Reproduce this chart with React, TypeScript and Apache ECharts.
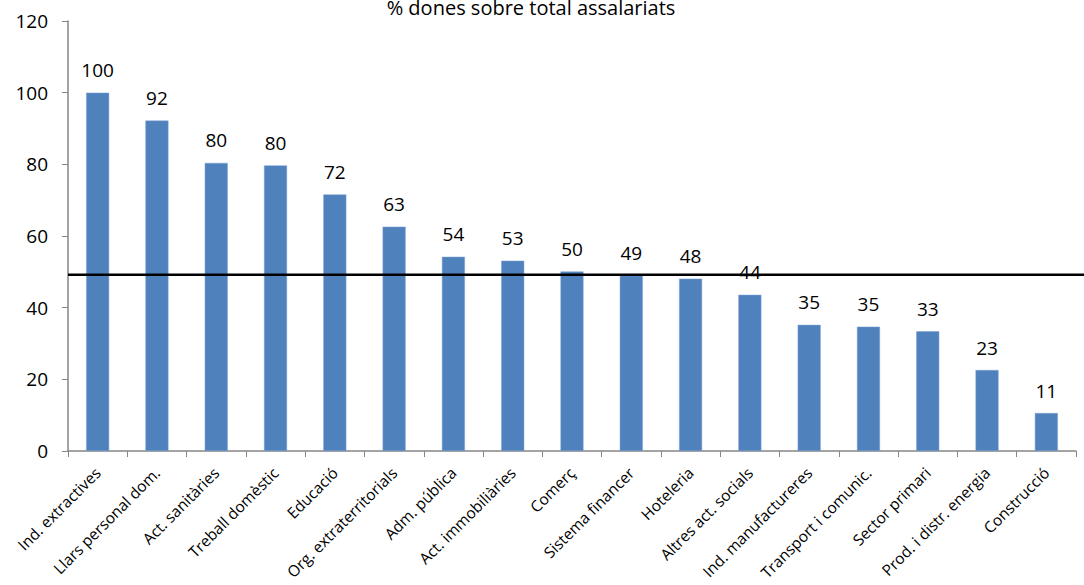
import React, { useEffect, useRef } from "react";
import * as echarts from "echarts";

const categories = [
  "Ind. extractives",
  "Llars personal dom.",
  "Act. sanitàries",
  "Treball domèstic",
  "Educació",
  "Org. extraterritorials",
  "Adm. pública",
  "Act. immobiliàries",
  "Comerç",
  "Sistema financer",
  "Hoteleria",
  "Altres act. socials",
  "Ind. manufactureres",
  "Transport i comunic.",
  "Sector primari",
  "Prod. i distr. energia",
  "Construcció",
];
const values = [100, 92.2, 80.4, 79.7, 71.6, 62.6, 54.2, 53.1, 50.1, 48.9, 48.1, 43.6, 35.2, 34.7, 33.4, 22.6, 10.6];
const averageLine = 49.2;
const titleText = "% dones sobre total assalariats";
const yTicks = { min: 0, max: 120, interval: 20 };

const FONT = "'Open Sans', 'Noto Sans', sans-serif";

export default function App() {
  const ref = useRef<HTMLDivElement>(null);
  useEffect(() => {
    document.body.style.margin = "0";
    const chart = echarts.init(ref.current!, undefined, { renderer: "svg" });
    chart.setOption({
      animation: false,
      backgroundColor: "#ffffff",
      title: {
        text: titleText,
        left: 526,
        top: -8,
        textAlign: "center",
        textStyle: { fontFamily: FONT, fontSize: 20, fontWeight: "normal", color: "#000" },
      },
      grid: { left: 68, right: 8, top: 21, bottom: 134 },
      xAxis: {
        type: "category",
        data: categories,
        axisLine: { lineStyle: { color: "#868686", width: 1.5 } },
        axisTick: { show: true, length: 6, lineStyle: { color: "#868686" } },
        axisLabel: {
          rotate: 45,
          interval: 0,
          fontFamily: FONT,
          fontSize: 15.5,
          color: "#000",
          margin: 19,
        },
      },
      yAxis: {
        type: "value",
        min: yTicks.min,
        max: yTicks.max,
        interval: yTicks.interval,
        axisLine: { show: true, lineStyle: { color: "#868686", width: 1.5 } },
        axisTick: { show: true, length: 6, lineStyle: { color: "#868686" } },
        splitLine: { show: false },
        axisLabel: { fontFamily: FONT, fontSize: 19, color: "#000", margin: 20 },
      },
      series: [
        {
          type: "bar",
          data: values,
          barWidth: 23,
          itemStyle: { color: "#4F81BD", borderColor: "#7EA3D3", borderWidth: 0.5 },
          label: {
            show: true,
            position: "top",
            distance: 13,
            fontFamily: FONT,
            fontSize: 19,
            color: "#000",
            formatter: (p: any) => String(Math.round(p.value)),
          },
          z: 2,
        },
      ],
    });
    const y = chart.convertToPixel({ yAxisIndex: 0 }, averageLine) as number;
    chart.setOption({
      graphic: [
        {
          type: "line",
          z: 100,
          shape: { x1: 68, y1: y, x2: 1084, y2: y },
          style: { stroke: "#000", lineWidth: 2.5 },
        },
      ],
    });
    return () => chart.dispose();
  }, []);
  return <div ref={ref} style={{ width: 1084, height: 585 }} />;
}
